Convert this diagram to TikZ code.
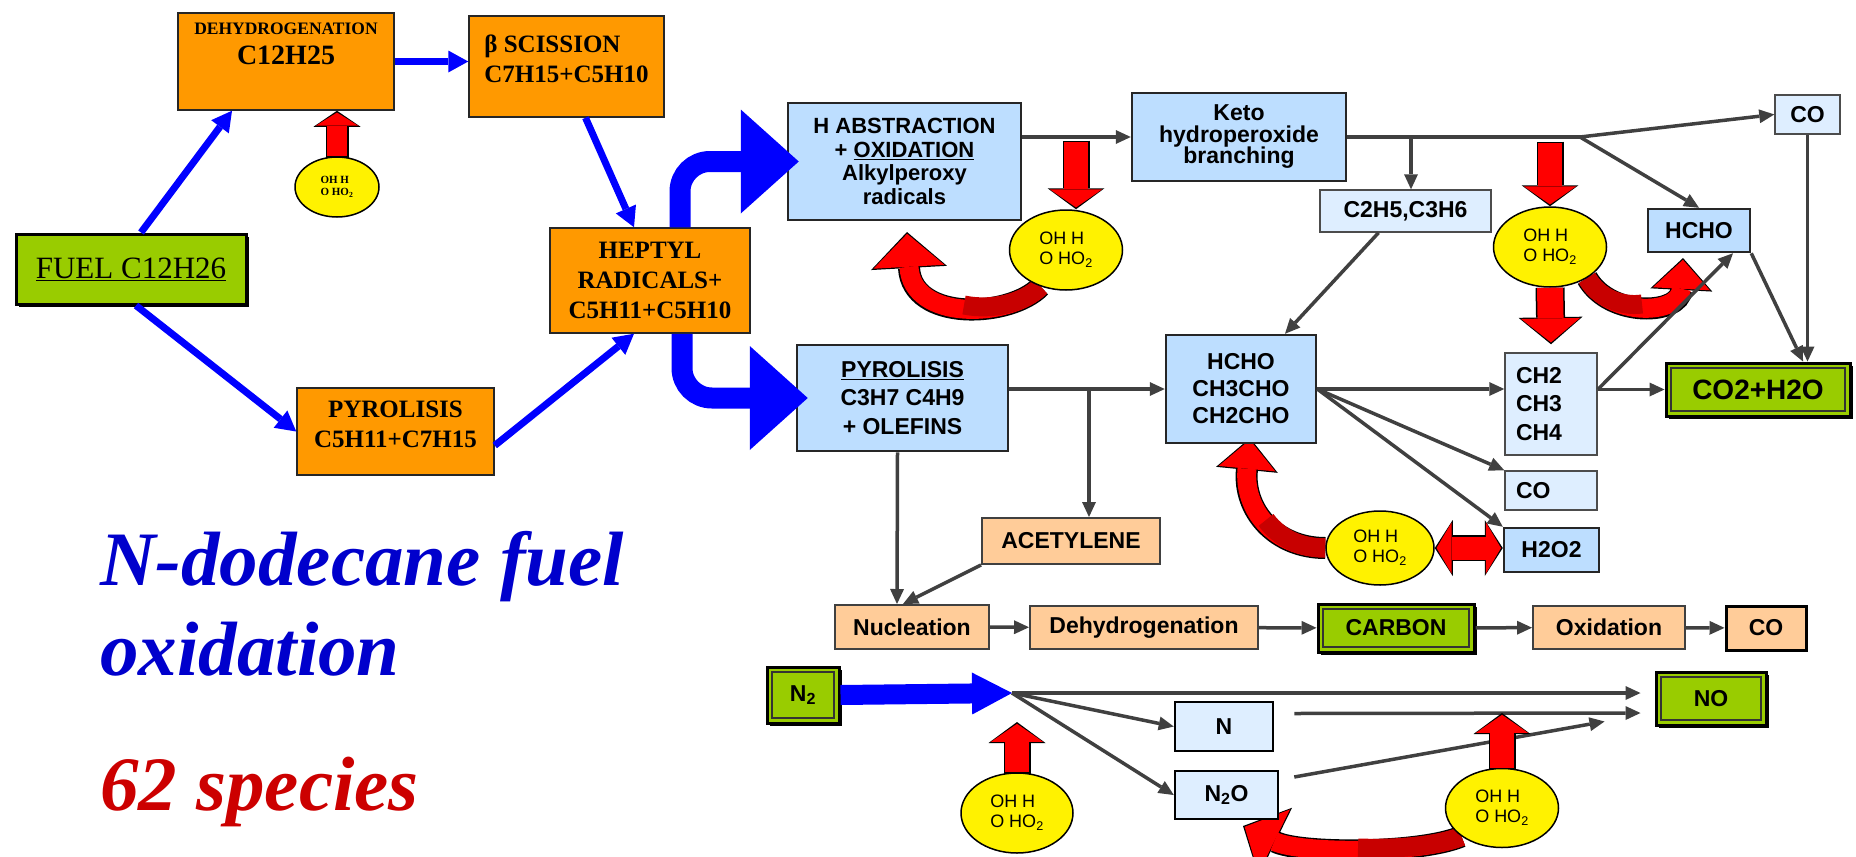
\documentclass[tikz,border=0pt]{standalone}
\usepackage{fontspec}
\setmainfont{Liberation Serif}
\newfontfamily\arial{Liberation Sans}
\usetikzlibrary{arrows.meta,shapes.geometric,shadows,backgrounds}

\definecolor{boxorange}{RGB}{255,153,0}
\definecolor{boxblue}{RGB}{189,222,255}
\definecolor{paleblue}{RGB}{222,238,255}
\definecolor{peach}{RGB}{255,204,153}
\definecolor{limegreen}{RGB}{153,204,0}
\definecolor{darkline}{RGB}{64,64,64}
\definecolor{titleblue}{RGB}{0,0,204}
\definecolor{titlered}{RGB}{204,0,0}
\definecolor{swirlshade}{RGB}{200,0,0}

\def\lift#1{\rule[-#1pt]{0pt}{#1pt}}

\begin{document}
\begin{tikzpicture}[x=1pt,y=-1pt]
    \tikzstyle{orange box}=[rectangle, draw=black!85, line width=1.5pt, fill=boxorange, align=center, inner sep=2pt, font=\bfseries\fontsize{25}{30}\selectfont]
    \tikzstyle{blue box}=[rectangle, draw=black!85, line width=2.5pt, fill=boxblue, align=center, inner sep=2pt, font=\arial\bfseries\fontsize{23}{27}\selectfont]
    \tikzstyle{pale box}=[blue box, draw=black!70, line width=1.5pt, fill=paleblue]
    \tikzstyle{peach box}=[blue box, draw=black!75, line width=2pt, fill=peach]
    \tikzstyle{fuel box}=[rectangle, draw=black, line width=3pt, fill=limegreen, drop shadow={shadow xshift=3pt,shadow yshift=-3pt,fill=black,opacity=1}]
    \tikzstyle{green box}=[blue box, fuel box, path picture={\draw[black!80, line width=1.2pt] ([shift={(5pt,5pt)}]path picture bounding box.south west) rectangle ([shift={(-5pt,-5pt)}]path picture bounding box.north east);}]
    \tikzstyle{radical}=[ellipse, draw=black, line width=1.5pt, fill=yellow, align=left, inner sep=0pt, font=\arial\fontsize{18}{20}\selectfont]
    \tikzstyle{headline}=[inner sep=0pt, anchor=base west, font=\bfseries\itshape\fontsize{77}{80}\selectfont]
    \tikzstyle{fuel flow}=[draw=blue, line width=7pt, -{Triangle[length=20pt,width=22pt,line width=0pt]}]
    \tikzstyle{radical flow}=[draw=blue, line width=21pt, -{Triangle[length=58pt,width=104pt,line width=0pt]}]
    \tikzstyle{n2 flow}=[draw=blue, line width=20pt, -{Triangle[length=40pt,width=42pt,line width=0pt]}]
    \tikzstyle{link}=[draw=darkline, line width=3.5pt, -{Triangle[length=15pt,width=14pt,line width=0pt]}]
    \tikzstyle{plain link}=[draw=darkline, line width=3.5pt]
    \tikzstyle{push rim}=[draw=black, line width=27pt, shorten <=-1.5pt, -{Triangle[length=21pt,width=57pt,line width=0pt]}]
    \tikzstyle{push}=[draw=red, line width=24pt, shorten >=1.8pt, -{Triangle[length=18pt,width=52pt,line width=0pt]}]
    \tikzstyle{big push rim}=[draw=black, line width=29pt, -{Triangle[length=27pt,width=64pt,line width=0pt]}]
    \tikzstyle{big push}=[draw=red, line width=26pt, shorten >=1.8pt, -{Triangle[length=24pt,width=59pt,line width=0pt]}]
    \tikzstyle{swap rim}=[draw=black, line width=26pt, {Triangle[length=18pt,width=56pt,line width=0pt]}-{Triangle[length=18pt,width=56pt,line width=0pt]}]
    \tikzstyle{swap}=[draw=red, line width=23pt, shorten >=1.8pt, shorten <=1.8pt, {Triangle[length=15pt,width=51pt,line width=0pt]}-{Triangle[length=15pt,width=51pt,line width=0pt]}]
    \tikzstyle{swirl rim}=[draw=black, line width=22pt, -{Triangle[length=32pt,width=62pt,line width=0pt]}]
    \tikzstyle{swirl}=[draw=red, line width=19pt, shorten >=1.8pt, -{Triangle[length=29pt,width=57pt,line width=0pt]}]
    \tikzstyle{wide swirl rim}=[draw=black, line width=22pt, -{Triangle[length=36pt,width=76pt,line width=0pt]}]
    \tikzstyle{wide swirl}=[draw=red, line width=19pt, shorten >=1.8pt, -{Triangle[length=33pt,width=71pt,line width=0pt]}]
    \tikzstyle{swirl shade}=[draw=swirlshade, line width=19pt]

    \useasboundingbox (0,0) rectangle (1856,857);

    % Draw the fuel breakdown boxes
    \node[orange box, minimum width=216pt, minimum height=97pt, font=\bfseries\fontsize{28}{30}\selectfont] (dehy) at (286,61.5)
        {{\fontsize{17.5}{20}\selectfont DEHYDROGENATION}\\C12H25\lift{35}};
    \node[orange box, minimum width=195pt, minimum height=101pt, align=left] (beta) at (566.5,66.5)
        {β SCISSION\\C7H15+C5H10\lift{16}};
    \node[fuel box, minimum width=230pt, minimum height=70pt, font=\fontsize{31}{33}\selectfont] (fuel) at (131,269)
        {\underline{FUEL C12H26}};
    \node[orange box, minimum width=200pt, minimum height=105pt] (heptyl) at (650,280.5)
        {HEPTYL\\RADICALS+\\C5H11+C5H10};
    \node[orange box, minimum width=197pt, minimum height=87pt] (pyro) at (395.5,431.5)
        {PYROLISIS\\C5H11+C7H15\lift{14}};
    \node[radical, minimum width=84pt, minimum height=60pt, font=\bfseries\fontsize{11}{12}\selectfont] (e0) at (337,187)
        {OH H\\O HO\textsubscript{2}};

    % Draw the oxidation boxes
    \node[blue box, minimum width=233pt, minimum height=117pt, font=\arial\bfseries\fontsize{22}{23.5}\selectfont] (habs) at (904.5,161.5)
        {H ABSTRACTION\\+ \underline{OXIDATION}\\Alkylperoxy\\radicals};
    \node[blue box, minimum width=214pt, minimum height=88pt, font=\arial\bfseries\fontsize{23}{21.5}\selectfont] (keto) at (1239,137)
        {Keto\\hydroperoxide\\branching};
    \node[blue box, minimum width=211pt, minimum height=106pt, font=\arial\bfseries\fontsize{23}{28.5}\selectfont] (pyrob) at (902.5,398)
        {\underline{PYROLISIS}\\C3H7 C4H9\\+ OLEFINS};
    \node[blue box, minimum width=150pt, minimum height=108pt] (hchoM) at (1241,389) {HCHO\\CH3CHO\\CH2CHO};
    \node[blue box, minimum width=102pt, minimum height=43pt] (hchoS) at (1699,230.5) {HCHO};
    \node[blue box, minimum width=95pt, minimum height=44pt] (h2o2) at (1551.5,550) {H2O2};
    \node[pale box, minimum width=171pt, minimum height=42pt] (c2h5) at (1405.5,211) {C2H5,C3H6};
    \node[pale box, minimum width=65pt, minimum height=39pt] (coTop) at (1807.5,114.5) {CO};
    \node[pale box, minimum width=92pt, minimum height=102pt, text width=70pt, align=left, font=\arial\bfseries\fontsize{23}{28.5}\selectfont] (ch2) at (1551,404)
        {CH2\\CH3\\CH4};
    \node[pale box, minimum width=92pt, minimum height=39pt, text width=70pt, align=left] (coMid) at (1551,490.5) {CO};
    \node[green box, minimum width=184pt, minimum height=53pt, font=\arial\bfseries\fontsize{28}{30}\selectfont] (co2) at (1758,389.5) {CO2+H2O};

    % Draw the soot row
    \node[peach box, minimum width=178pt, minimum height=46pt] (acet) at (1071,541) {ACETYLENE};
    \node[peach box, minimum width=154pt, minimum height=44pt] (nucl) at (912,627) {Nucleation};
    \node[peach box, minimum width=228pt, minimum height=43pt] (dehyd) at (1144,627.5) {Dehydrogenation};
    \node[green box, minimum width=156pt, minimum height=48pt] (carbon) at (1396,628) {CARBON};
    \node[peach box, minimum width=152pt, minimum height=43pt] (oxid) at (1609,627.5) {Oxidation};
    \node[peach box, minimum width=80pt, minimum height=44pt, draw=black, line width=3pt] (cobot) at (1766,628) {CO};

    % Draw the nitrogen row
    \node[green box, minimum width=72pt, minimum height=56pt] (n2) at (803,695) {N\textsubscript{2}};
    \node[green box, minimum width=110pt, minimum height=53pt] (no) at (1711,698.5) {NO};
    \node[pale box, minimum width=98pt, minimum height=49pt, draw=black, line width=2.5pt] (nbox) at (1224,726.5) {N};
    \node[pale box, minimum width=103pt, minimum height=48pt, draw=black, line width=2.5pt] (n2o) at (1226.5,795) {N\textsubscript{2}O};

    % Draw the radical pools
    \node[radical, minimum width=113pt, minimum height=80pt] (e1) at (1066,250) {OH H\\O HO\textsubscript{2}};
    \node[radical, minimum width=113pt, minimum height=80pt] (e2) at (1550,247) {OH H\\O HO\textsubscript{2}};
    \node[radical, minimum width=108pt, minimum height=74pt] (e3) at (1380,548) {OH H\\O HO\textsubscript{2}};
    \node[radical, minimum width=112pt, minimum height=80pt] (e4) at (1017,813) {OH H\\O HO\textsubscript{2}};
    \node[radical, minimum width=113pt, minimum height=79pt] (e5) at (1502,808) {OH H\\O HO\textsubscript{2}};

    % Branch points
    \coordinate (kj) at (1580,137);
    \coordinate (kb) at (1411,137);
    \coordinate (pb) at (1089,389);
    \coordinate (nj) at (1012,693);
    \coordinate (e1t) at (1076,142);
    \coordinate (e1h) at ([xshift=10pt]e1.north);
    \coordinate (e2t) at (1550,143);
    \coordinate (e4t) at (1017,722);
    \coordinate (e5t) at (1502,713);

    % Connect the fuel boxes
    \draw[fuel flow] ([xshift=10pt]fuel.north) -- ([xshift=-54pt]dehy.south);
    \draw[fuel flow] ([xshift=5pt]fuel.south) -- (pyro.west);
    \draw[fuel flow] ([yshift=-14pt]pyro.east) -- ([xshift=-16pt]heptyl.south);
    \draw[fuel flow] (dehy.east) -- (dehy.east -| beta.west);
    \draw[fuel flow] ([xshift=19pt]beta.south) -- ([xshift=-16pt]heptyl.north);
    \draw[radical flow, rounded corners=30pt] ([xshift=30pt]heptyl.north) |- ([xshift=12pt]habs.west);
    \draw[radical flow, rounded corners=30pt] ([xshift=32pt]heptyl.south) |- ([xshift=12pt]pyrob.west);

    % Connect the oxidation boxes
    \draw[link] (habs.east |- keto.west) -- (keto.west);
    \draw[plain link] (keto.east) -- (kj);
    \draw[link] (kj) -- (coTop.west);
    \draw[link] (kj) -- (hchoS.north);
    \draw[link] (kb) -- (kb |- c2h5.north);
    \draw[link] ([xshift=-27pt]c2h5.south) -- ([xshift=44pt]hchoM.north);
    \draw[link] (pyrob.east |- hchoM.west) -- (hchoM.west);
    \draw[link] (pb) -- (pb |- acet.north);
    \draw[link] ([xshift=-5pt]pyrob.south) -- ([xshift=-15pt]nucl.north);
    \draw[link] (acet.south west) -- ([xshift=-9pt]nucl.north);
    \draw[link] (hchoM.east) -- (hchoM.east -| ch2.west);
    \draw[link] (hchoM.east) -- (coMid.north west);
    \draw[link] (hchoM.east) -- (h2o2.north west);
    \draw[link] (ch2.east |- co2.west) -- (co2.west);
    \draw[link] (ch2.east |- co2.west) -- ([xshift=34pt]hchoS.south);
    \draw[link] (hchoS.south east) -- ([xshift=45pt]co2.north);
    \draw[link] (coTop.south) -- (coTop.south |- co2.north);
    \foreach \a/\b in {nucl/dehyd, dehyd/carbon, carbon/oxid, oxid/cobot}
        \draw[link] (\a) -- (\b);

    % Connect the nitrogen boxes
    \draw[n2 flow] (n2.east) -- (nj);
    \draw[link] (nj) -- ([xshift=-14pt,yshift=5.5pt]no.west);
    \draw[link] (nj) -- (nbox.west);
    \draw[link] (nj) -- (n2o.west);
    \draw[link] ([xshift=20pt,yshift=13pt]nbox.east) -- ([xshift=-14pt,yshift=-14.5pt]no.west);
    \draw[link] ([xshift=15pt,yshift=18pt]n2o.east) -- ([xshift=-50pt,yshift=-23pt]no.west);

    % Radical attack arrows
    \draw[push rim, line width=23pt, -{Triangle[length=16pt,width=47pt,line width=0pt]}] (e0.north) -- (e0.north |- dehy.south);
    \draw[push, line width=20pt, -{Triangle[length=13pt,width=42pt,line width=0pt]}] (e0.north) -- (e0.north |- dehy.south);
    \foreach \from/\to in {e1t/e1h, e2t/e2.north, e4.north/e4t, e5.north/e5t} {
        \draw[push rim] (\from) -- (\to);
        \draw[push] (\from) -- (\to);
    }
    \draw[big push rim] (e2.south) -- ([yshift=8pt]ch2.north);
    \draw[big push] (e2.south) -- ([yshift=8pt]ch2.north);
    \draw[swap rim] (e3.east) -- (e3.east -| h2o2.west);
    \draw[swap] (e3.east) -- (e3.east -| h2o2.west);

    % Recycled radicals
    \begin{scope}[on background layer]
        \draw[wide swirl rim] (e1.235) .. controls (1010,318) and (912,322) .. (907,232);
        \draw[swirl rim] (e2.-40) .. controls (1610,318) and (1680,315) .. (1683,258);
        \draw[swirl rim] (e3.west) .. controls (1275,548) and (1243,510) .. (1250,438);
        \draw[wide swirl rim] (e5.215) .. controls (1420,854) and (1300,854) .. (1243,826);
        \draw[wide swirl] (e1.235) .. controls (1010,318) and (912,322) .. (907,232);
        \draw[swirl] (e2.-40) .. controls (1610,318) and (1680,315) .. (1683,258);
        \draw[swirl] (e3.west) .. controls (1275,548) and (1243,510) .. (1250,438);
        \draw[wide swirl] (e5.215) .. controls (1420,854) and (1300,854) .. (1243,826);
        % darker half next to the pools
        \draw[swirl shade] (e1.235) .. controls (1025.5,302) and (993,311) .. (964,305);
        \draw[swirl shade] (e2.-40) .. controls (1598,297.5) and (1621.5,307) .. (1642,304);
        \draw[swirl shade] (e3.west) .. controls (1300.5,548) and (1280,538.5) .. (1266,520);
        \draw[swirl shade] (e5.215) .. controls (1441,845) and (1400.5,849.5) .. (1358,848);
    \end{scope}

    % Annotate the mechanism
    \node[headline, text=titleblue] (ttl) at (100,585) {N-dodecane fuel};
    \node[headline, text=titleblue] (ttl2) at (100,675) {oxidation};
    \node[headline, text=titlered] (spc) at (100,810) {62 species};
\end{tikzpicture}
\end{document}
